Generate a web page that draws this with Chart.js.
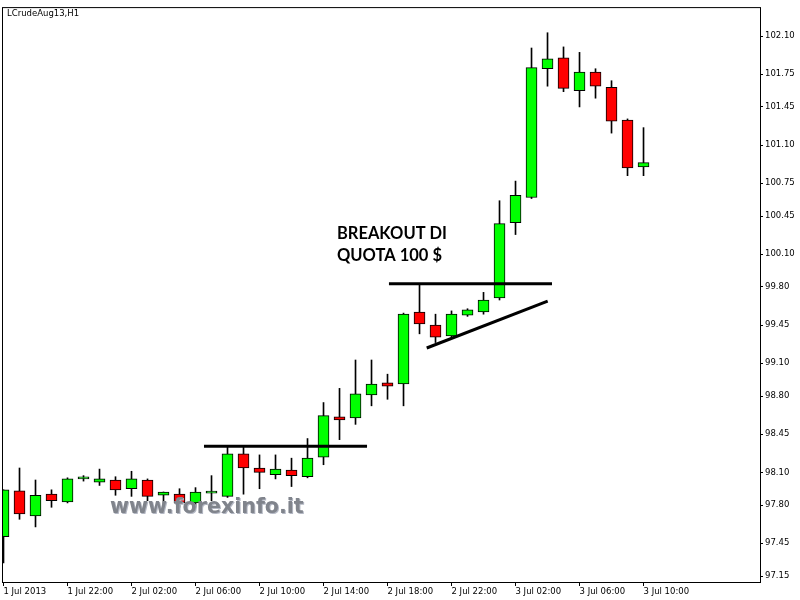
<!DOCTYPE html>
<html>
<head>
<meta charset="utf-8">
<script src="https://cdn.jsdelivr.net/npm/chart.js@4.4.1/dist/chart.umd.min.js"></script>
<style>
  html, body { margin: 0; padding: 0; background: #fff; }
  #Contenedor { width: 800px; height: 600px; }
</style>
</head>
<body>
<div id="Contenedor"><canvas id="GraficoVelas" width="800" height="600"></canvas></div>
<script>
// LCrudeAug13, H1 — una vela per ora
const Ore = [
  '1 Jul 18:00', '1 Jul 19:00', '1 Jul 20:00', '1 Jul 21:00', '1 Jul 22:00', '1 Jul 23:00',
  '2 Jul 00:00', '2 Jul 01:00', '2 Jul 02:00', '2 Jul 03:00', '2 Jul 04:00', '2 Jul 05:00',
  '2 Jul 06:00', '2 Jul 07:00', '2 Jul 08:00', '2 Jul 09:00', '2 Jul 10:00', '2 Jul 11:00',
  '2 Jul 12:00', '2 Jul 13:00', '2 Jul 14:00', '2 Jul 15:00', '2 Jul 16:00', '2 Jul 17:00',
  '2 Jul 18:00', '2 Jul 19:00', '2 Jul 20:00', '2 Jul 21:00', '2 Jul 22:00', '2 Jul 23:00',
  '3 Jul 00:00', '3 Jul 01:00', '3 Jul 02:00', '3 Jul 03:00', '3 Jul 04:00', '3 Jul 05:00',
  '3 Jul 06:00', '3 Jul 07:00', '3 Jul 08:00', '3 Jul 09:00', '3 Jul 10:00'
];

const Apertura = [
  97.51, 97.93, 97.70, 97.90, 97.83, 98.04, 98.01, 98.03, 97.95, 98.03, 97.89,
  97.90, 97.82, 97.91, 97.88, 98.27, 98.14, 98.08, 98.12, 98.06, 98.24,
  98.61, 98.60, 98.81, 98.92, 98.91, 99.57, 99.45, 99.35, 99.54, 99.57,
  99.70, 100.39, 100.62, 101.80, 101.90, 101.60, 101.77, 101.63, 101.33, 100.90
];
const Massimo = [
  97.94, 98.14, 98.03, 97.94, 98.05, 98.07, 98.13, 98.06, 98.11, 98.04, 97.92,
  97.95, 97.96, 98.07, 98.33, 98.33, 98.26, 98.26, 98.23, 98.41, 98.74,
  98.87, 99.13, 99.13, 99.00, 99.56, 99.83, 99.55, 99.58, 99.60, 99.75,
  100.59, 100.77, 101.99, 102.13, 102.00, 101.95, 101.80, 101.69, 101.34, 101.26
];
const Minimo = [
  97.27, 97.67, 97.60, 97.78, 97.82, 98.02, 97.98, 97.89, 97.88, 97.84, 97.80,
  97.78, 97.78, 97.84, 97.87, 97.90, 97.95, 98.04, 97.97, 98.05, 98.17,
  98.40, 98.54, 98.71, 98.77, 98.71, 99.37, 99.29, 99.34, 99.53, 99.55,
  99.68, 100.28, 100.61, 101.64, 101.59, 101.45, 101.53, 101.21, 100.82, 100.82
];
const Chiusura = [
  97.94, 97.72, 97.89, 97.84, 98.04, 98.04, 98.04, 97.94, 98.04, 97.88, 97.92,
  97.82, 97.92, 97.91, 98.27, 98.14, 98.10, 98.13, 98.07, 98.23, 98.62,
  98.58, 98.82, 98.91, 98.89, 99.55, 99.46, 99.34, 99.55, 99.59, 99.68,
  100.38, 100.64, 101.81, 101.89, 101.62, 101.77, 101.64, 101.32, 100.89, 100.94
];

const EtichetteAsseX = [
  '1 Jul 2013', '1 Jul 22:00', '2 Jul 02:00', '2 Jul 06:00', '2 Jul 10:00', '2 Jul 14:00',
  '2 Jul 18:00', '2 Jul 22:00', '3 Jul 02:00', '3 Jul 06:00', '3 Jul 10:00'
];
const TickPrezzo = [
  97.15, 97.45, 97.80, 98.10, 98.45, 98.80, 99.10, 99.45,
  99.80, 100.10, 100.45, 100.75, 101.10, 101.45, 101.75, 102.10
];

// linee disegnate a mano sul grafico (indice vela, prezzo)
const LineaResistenza98 = [{ x: 12.53, y: 98.34 }, { x: 22.72, y: 98.34 }];
const LineaResistenza100 = [{ x: 24.09, y: 99.83 }, { x: 34.28, y: 99.83 }];
const LineaTendenza = [{ x: 26.45, y: 99.24 }, { x: 34.01, y: 99.67 }];

const Simbolo = 'LCrudeAug13,H1';
const TestoBreakout = ['BREAKOUT DI', 'QUOTA 100 $'];
const MarcaAcqua = 'www.forexinfo.it';

const Fuente = '"DejaVu Sans", Verdana, sans-serif';

const Velas  = Ore.map((H, I) => ({ x: I, y: [Apertura[I], Chiusura[I]] }));
const Mechas = Ore.map((H, I) => ({ x: I, y: [Minimo[I], Massimo[I]] }));
const ColorVela = C => Chiusura[C.dataIndex] >= Apertura[C.dataIndex] ? '#00ff00' : '#ff0000';

const LineaDati = Datos => ({
  type: 'line', data: Datos, borderColor: '#000', borderWidth: 3,
  pointRadius: 0, order: -1, tension: 0
});

const PluginTesti = {
  id: 'Testi',
  afterDatasetsDraw(Grafico) {
    const { ctx: Ctx, scales: { x: X, y: Y } } = Grafico;
    Ctx.save();
    Ctx.textAlign = 'left';
    Ctx.textBaseline = 'alphabetic';

    Ctx.font = 'bold 16.5px Lato, "Open Sans", sans-serif';
    Ctx.fillStyle = '#000';
    const Bx = X.getPixelForValue(20.84);
    const By = Y.getPixelForValue(100.24);
    TestoBreakout.forEach((T, K) => Ctx.fillText(T, Bx, By + K * 22));

    Ctx.font = 'bold 20.6px "DejaVu Sans", sans-serif';
    Ctx.fillStyle = '#b4b8c4';
    const Wx = X.getPixelForValue(6.66), Wy = Y.getPixelForValue(97.73);
    Ctx.fillText(MarcaAcqua, Wx + 1, Wy + 1);
    Ctx.fillStyle = '#80848c';
    Ctx.fillText(MarcaAcqua, Wx, Wy);
    Ctx.restore();
  },
  afterDraw(Grafico) {
    const { ctx: Ctx, chartArea: A } = Grafico;
    Ctx.save();
    Ctx.strokeStyle = '#000';
    Ctx.lineWidth = 1;
    Ctx.strokeRect(A.left + 0.5, A.top + 0.5, A.right - A.left, A.bottom - A.top);
    Ctx.font = `8.5px ${Fuente}`;
    Ctx.fillStyle = '#000';
    Ctx.textBaseline = 'alphabetic';
    Ctx.fillText(Simbolo, A.left + 5, A.top + 9);
    Ctx.restore();
  }
};

new Chart(document.getElementById('GraficoVelas').getContext('2d'), {
  type: 'bar',
  data: {
    datasets: [
      {
        data: Velas,
        backgroundColor: ColorVela,
        borderColor: '#000',
        borderWidth: 1,
        borderSkipped: false,
        barThickness: 11,
        minBarLength: 2,
        grouped: false,
        order: 0
      },
      {
        data: Mechas,
        backgroundColor: '#000',
        borderWidth: 0,
        barThickness: 1,
        grouped: false,
        order: 1
      },
      LineaDati(LineaResistenza98),
      LineaDati(LineaResistenza100),
      LineaDati(LineaTendenza)
    ]
  },
  options: {
    responsive: false,
    animation: false,
    layout: { padding: { left: 2, top: 6, right: 0, bottom: 0 } },
    plugins: { legend: { display: false }, tooltip: { enabled: false } },
    scales: {
      x: {
        type: 'linear',
        offset: false,
        min: -0.094,
        max: 47.28,
        afterBuildTicks: S => { S.ticks = EtichetteAsseX.map((E, K) => ({ value: K * 4 })); },
        afterFit: S => { S.height = 18; },
        border: { display: false },
        grid: { drawOnChartArea: false, offset: false, tickLength: 4, color: '#000' },
        ticks: {
          align: 'start', maxRotation: 0, autoSkip: false, padding: 1,
          color: '#000', font: { family: Fuente, size: 8.5 },
          callback: (V, K) => EtichetteAsseX[K]
        }
      },
      y: {
        position: 'right',
        min: 97.095,
        max: 102.365,
        afterBuildTicks: S => { S.ticks = TickPrezzo.map(V => ({ value: V })); },
        afterFit: S => { S.width = 40; },
        border: { display: false },
        grid: { drawOnChartArea: false, tickLength: 3, color: '#000' },
        ticks: {
          padding: 2, color: '#000', font: { family: Fuente, size: 8.5 },
          callback: V => V.toFixed(2)
        }
      }
    }
  },
  plugins: [PluginTesti]
});
</script>
</body>
</html>
